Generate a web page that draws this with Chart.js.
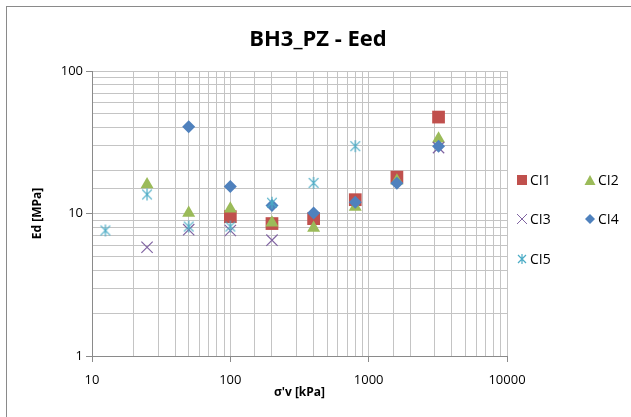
<!DOCTYPE html>
<html>
<head>
<meta charset="utf-8">
<script src="https://cdn.jsdelivr.net/npm/chart.js@4.4.1/dist/chart.umd.min.js"></script>
<style>
  html, body { margin: 0; padding: 0; background: #fff; }
  #wrap { position: relative; width: 631px; height: 417px; }
  #frame { position: absolute; left: 6px; top: 6px; width: 640px; height: 430px; border: 1.5px solid #8a8a8a; box-sizing: border-box; pointer-events: none; }
  canvas { position: absolute; left: 0; top: 0; }
</style>
</head>
<body>
<div id="wrap">
  <canvas id="chart" width="631" height="417"></canvas>
  <div id="frame"></div>
</div>
<script>
// --- Data ---
const chartTitle = "BH3_PZ - Eed";
const xTitle = "\u03C3'v [kPa]";
const yTitle = "Ed [MPa]";
const seriesNames = ["CI1", "CI2", "CI3", "CI4", "CI5"];

const ci1X = [100, 200, 400, 800, 1600, 3200];
const ci1Y = [9.5, 8.5, 9.2, 12.5, 18.0, 47.5];

const ci2X = [25, 50, 100, 200, 400, 800, 1600, 3200];
const ci2Y = [16.0, 10.1, 10.8, 8.6, 7.9, 11.1, 17.0, 33.5];

const ci3X = [25, 50, 100, 200, 3200];
const ci3Y = [5.8, 7.7, 7.6, 6.5, 29.0];

const ci4X = [50, 100, 200, 400, 800, 1600, 3200];
const ci4Y = [40.7, 15.5, 11.4, 10.1, 12.0, 16.3, 29.7];

const ci5X = [12.5, 25, 50, 100, 200, 400, 800];
const ci5Y = [7.6, 13.6, 8.1, 8.1, 11.9, 16.4, 29.7];

const colors = ["#C0504D", "#9BBB59", "#8064A2", "#4F81BD", "#4BACC6"];

// asterisk marker like Excel (x with vertical bar)
function makeStar(size, color) {
    const c = document.createElement("canvas");
    c.width = size; c.height = size;
    const g = c.getContext("2d");
    const m = size / 2, r = size / 2 - 1;
    g.strokeStyle = color;
    g.lineWidth = 1.2;
    g.beginPath();
    g.moveTo(m - r * 0.8, m - r * 0.8); g.lineTo(m + r * 0.8, m + r * 0.8);
    g.moveTo(m + r * 0.8, m - r * 0.8); g.lineTo(m - r * 0.8, m + r * 0.8);
    g.moveTo(m, m - r); g.lineTo(m, m + r);
    g.stroke();
    return c;
}
const starMarker = makeStar(14, colors[4]);
const starSmall = makeStar(12, colors[4]);

function pts(xs, ys) {
    return xs.map((x, i) => ({ x: x, y: ys[i] }));
}

const styles = [
    { pointStyle: "rect", radius: 9 },
    { pointStyle: "triangle", radius: 7.5 },
    { pointStyle: "crossRot", radius: 8 },
    { pointStyle: "rectRot", radius: 6.5 },
    { pointStyle: starMarker, radius: 7 }
];

const allX = [ci1X, ci2X, ci3X, ci4X, ci5X];
const allY = [ci1Y, ci2Y, ci3Y, ci4Y, ci5Y];

const datasets = seriesNames.map((name, i) => ({
    label: name,
    data: pts(allX[i], allY[i]),
    pointStyle: styles[i].pointStyle,
    pointRadius: styles[i].radius,
    pointHoverRadius: styles[i].radius,
    backgroundColor: colors[i],
    borderColor: colors[i],
    pointBorderWidth: (i === 2 || i === 4) ? 1.2 : 0,
    showLine: false,
    order: 5 - i
}));

const isMajor = v => Math.abs(Math.log10(v) - Math.round(Math.log10(v))) < 1e-6;

// legend + title drawn by hand to match the Excel layout
const excelDecor = {
    id: "excelDecor",
    afterDraw(chart) {
        const ctx = chart.ctx;
        ctx.save();
        ctx.fillStyle = "#000";
        ctx.font = "bold 22px 'Open Sans', 'Liberation Sans', sans-serif";
        ctx.textAlign = "center";
        ctx.textBaseline = "middle";
        ctx.fillText(chartTitle, 318, 40);

        const legendPos = [[522, 180], [590, 180], [522, 219], [590, 219], [522, 259]];
        ctx.font = "14px 'Open Sans', 'Liberation Sans', sans-serif";
        ctx.textAlign = "left";
        legendPos.forEach((p, i) => {
            const [x, y] = p;
            ctx.fillStyle = colors[i];
            ctx.strokeStyle = colors[i];
            ctx.lineWidth = 1;
            if (i === 0) {
                ctx.fillRect(x - 5, y - 5, 10, 10);
            } else if (i === 1) {
                ctx.beginPath();
                ctx.moveTo(x, y - 5); ctx.lineTo(x + 5.5, y + 5); ctx.lineTo(x - 5.5, y + 5);
                ctx.closePath(); ctx.fill();
            } else if (i === 2) {
                ctx.beginPath();
                ctx.moveTo(x - 5, y - 5); ctx.lineTo(x + 5, y + 5);
                ctx.moveTo(x + 5, y - 5); ctx.lineTo(x - 5, y + 5);
                ctx.stroke();
            } else if (i === 3) {
                ctx.beginPath();
                ctx.moveTo(x, y - 5); ctx.lineTo(x + 5, y); ctx.lineTo(x, y + 5); ctx.lineTo(x - 5, y);
                ctx.closePath(); ctx.fill();
            } else {
                ctx.drawImage(starSmall, x - 6, y - 6);
            }
            ctx.fillStyle = "#000";
            ctx.fillText(seriesNames[i], x + 8, y + 1);
        });
        ctx.restore();
    }
};

new Chart(document.getElementById("chart").getContext("2d"), {
    type: "scatter",
    data: { datasets: datasets },
    options: {
        responsive: false,
        animation: false,
        events: [],
        layout: { padding: { left: 0, top: 71, right: 124, bottom: 15 } },
        plugins: {
            legend: { display: false },
            title: { display: false },
            tooltip: { enabled: false }
        },
        scales: {
            x: {
                type: "logarithmic",
                min: 10,
                max: 10000,
                afterFit: s => { s.height = 46; },
                border: { color: "#8a8a8a", width: 1 },
                grid: {
                    color: "#c4c4c4",
                    tickLength: 6,
                    tickColor: c => (c.tick && isMajor(c.tick.value)) ? "#8a8a8a" : "rgba(0,0,0,0)"
                },
                ticks: {
                    color: "#000",
                    font: { family: "'Open Sans', 'Liberation Sans', sans-serif", size: 13 },
                    padding: 10,
                    autoSkip: false,
                    maxRotation: 0,
                    callback: v => isMajor(v) ? String(v) : ""
                },
                title: {
                    display: true,
                    text: xTitle,
                    color: "#000",
                    font: { family: "'Open Sans', 'Liberation Sans', sans-serif", size: 12, weight: "bold" },
                    padding: { top: 0, bottom: 2 }
                }
            },
            y: {
                type: "logarithmic",
                min: 1,
                max: 100,
                afterFit: s => { s.width = 92; },
                border: { color: "#8a8a8a", width: 1 },
                grid: {
                    color: "#c4c4c4",
                    tickLength: 6,
                    tickColor: c => (c.tick && isMajor(c.tick.value)) ? "#8a8a8a" : "rgba(0,0,0,0)"
                },
                ticks: {
                    color: "#000",
                    font: { family: "'Open Sans', 'Liberation Sans', sans-serif", size: 13 },
                    padding: 3,
                    autoSkip: false,
                    callback: v => isMajor(v) ? String(v) : ""
                },
                title: {
                    display: true,
                    text: yTitle,
                    color: "#000",
                    font: { family: "'Open Sans', 'Liberation Sans', sans-serif", size: 12, weight: "bold" },
                    padding: { top: 30, bottom: 0 }
                }
            }
        }
    },
    plugins: [excelDecor]
});
</script>
</body>
</html>
